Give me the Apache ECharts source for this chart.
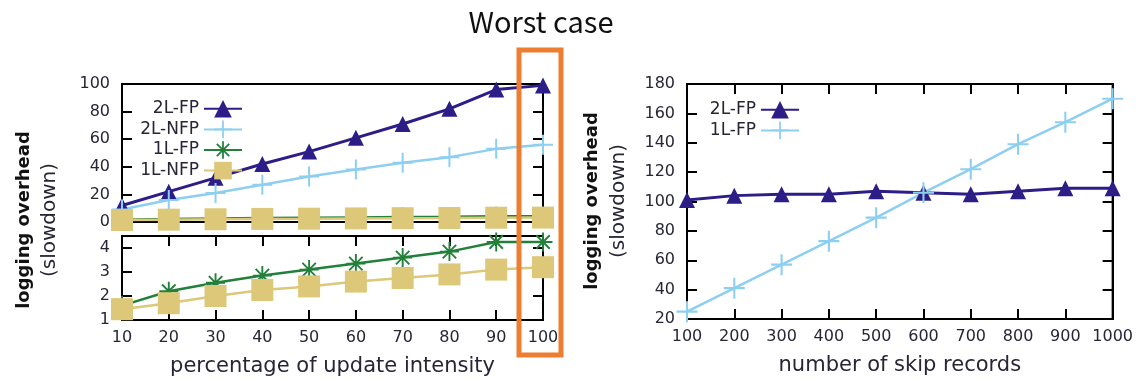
<!DOCTYPE html>
<html>
<head>
<meta charset="UTF-8">
<title>logging overhead</title>
<script src="https://cdn.jsdelivr.net/npm/echarts@6/dist/echarts.min.js"></script>
<style>
  html, body { margin: 0; padding: 0; background: #fff; }
  #main { width: 1136px; height: 384px; }
</style>
</head>
<body>
<div id="main"></div>
<script>
// left chart: percentage of update intensity
var intensity = [10, 20, 30, 40, 50, 60, 70, 80, 90, 100];
var fp2L  = [12, 22, 32, 42, 51, 61, 71, 82, 96, 99];
var nfp2L = [9, 16, 21, 27, 33, 38, 43, 47, 53, 56];
var fp1L  = [1.6, 2.2, 2.55, 2.85, 3.1, 3.35, 3.6, 3.85, 4.25, 4.25];
var nfp1L = [1.45, 1.7, 2.0, 2.25, 2.4, 2.6, 2.75, 2.9, 3.1, 3.2];

// right chart: number of skip records
var skips  = [100, 200, 300, 400, 500, 600, 700, 800, 900, 1000];
var skip2L = [101, 104, 105, 105, 107, 106, 105, 107, 109, 109];
var skip1L = [25, 41, 57, 73, 89, 106, 122, 139, 154, 170];

var PURPLE = '#2c1d87', BLUE = '#8dcff0', GREEN = '#23803a', KHAKI = '#dcc878';
var TXT = '#262636';
var PLUS = 'path://M9,0H11V9H20V11H11V20H9V11H0V9H9Z';
var STAR = 'path://M9,0H11V9H20V11H11V20H9V11H0V9H9Z M3.64,2.22L17.78,16.36L16.36,17.78L2.22,3.64Z M16.36,2.22L17.78,3.64L3.64,17.78L2.22,16.36Z';

function pairs(xs, ys) {
    return xs.map(function (x, i) { return [x, ys[i]]; });
}
function plain(v) { return String(v); }

var tickStyle = { show: true, inside: true, length: 10, lineStyle: { color: '#000', width: 2 } };
var noTick = { show: false };
var frameLine = { show: true, onZero: false, lineStyle: { color: '#000', width: 2 } };

function xAx(grid, pos, min, max, step, labels, ticks, name) {
    return {
        type: 'value', gridIndex: grid, position: pos, min: min, max: max, interval: step,
        axisLine: frameLine, splitLine: { show: false },
        axisTick: ticks ? tickStyle : noTick,
        axisLabel: { show: labels, margin: 10, fontSize: 16, color: TXT, formatter: plain },
        name: name || '', nameLocation: 'middle', nameGap: 36,
        nameTextStyle: { fontSize: 21, color: TXT }
    };
}
function yAx(grid, pos, min, max, step, labels, hideMax) {
    return {
        type: 'value', gridIndex: grid, position: pos, min: min, max: max, interval: step,
        axisLine: frameLine, splitLine: { show: false },
        axisTick: tickStyle,
        axisLabel: { show: labels, margin: 12, fontSize: 16, color: TXT, showMaxLabel: !hideMax, formatter: plain }
    };
}

var chart = echarts.init(document.getElementById('main'));
var option = {
    animation: false,
    textStyle: { fontFamily: 'DejaVu Sans' },
    grid: [
        { left: 122, top: 84, width: 421, height: 138, show: true, borderColor: '#000', borderWidth: 2 },
        { left: 122, top: 236, width: 421, height: 84, show: true, borderColor: '#000', borderWidth: 2 },
        { left: 687, top: 84, width: 426, height: 235, show: true, borderColor: '#000', borderWidth: 2 }
    ],
    xAxis: [
        xAx(0, 'bottom', 10, 100, 10, false, false),
        xAx(1, 'bottom', 10, 100, 10, true, true, 'percentage of update intensity'),
        xAx(1, 'top', 10, 100, 10, false, true),
        xAx(2, 'bottom', 100, 1000, 100, true, true, 'number of skip records'),
        xAx(2, 'top', 100, 1000, 100, false, true)
    ],
    yAxis: [
        yAx(0, 'left', 0, 100, 20, true),
        yAx(0, 'right', 0, 100, 20, false),
        yAx(1, 'left', 1, 4.5, 1, true, true),
        yAx(1, 'right', 1, 4.5, 1, false),
        yAx(2, 'left', 20, 180, 20, true),
        yAx(2, 'right', 20, 180, 20, false)
    ],
    legend: [
        {
            orient: 'vertical', align: 'right', right: 888, top: 95,
            itemWidth: 38, itemHeight: 22, itemGap: 3, selectedMode: false,
            textStyle: { fontSize: 17, color: TXT },
            data: ['2L-FP', '2L-NFP', '1L-FP', '1L-NFP']
        },
        {
            orient: 'vertical', align: 'right', right: 331, top: 96,
            itemWidth: 38, itemHeight: 22, itemGap: 3, selectedMode: false,
            textStyle: { fontSize: 17, color: TXT },
            formatter: function (n) { return n.replace('right ', ''); },
            data: ['right 2L-FP', 'right 1L-FP']
        }
    ],
    series: [
        // top-left panel
        { name: '2L-FP', type: 'line', xAxisIndex: 0, yAxisIndex: 0, data: pairs(intensity, fp2L),
          symbol: 'triangle', symbolSize: 16, color: PURPLE, lineStyle: { width: 3 } },
        { name: '2L-NFP', type: 'line', xAxisIndex: 0, yAxisIndex: 0, data: pairs(intensity, nfp2L),
          symbol: PLUS, symbolSize: 20, color: BLUE, lineStyle: { width: 2.5 } },
        { name: '1L-FP', type: 'line', xAxisIndex: 0, yAxisIndex: 0, data: pairs(intensity, fp1L),
          symbol: STAR, symbolSize: 19, color: GREEN, lineStyle: { width: 2.5 } },
        { name: '1L-NFP', type: 'line', xAxisIndex: 0, yAxisIndex: 0, data: pairs(intensity, nfp1L),
          symbol: 'rect', symbolSize: 22, color: KHAKI, lineStyle: { width: 2.5 } },
        // bottom-left panel
        { name: '1L-FP', type: 'line', xAxisIndex: 1, yAxisIndex: 2, data: pairs(intensity, fp1L),
          symbol: STAR, symbolSize: 19, color: GREEN, lineStyle: { width: 2.5 } },
        { name: '1L-NFP', type: 'line', xAxisIndex: 1, yAxisIndex: 2, data: pairs(intensity, nfp1L),
          symbol: 'rect', symbolSize: 22, color: KHAKI, lineStyle: { width: 2.5 } },
        // right chart
        { name: 'right 2L-FP', type: 'line', xAxisIndex: 3, yAxisIndex: 4, data: pairs(skips, skip2L),
          symbol: 'triangle', symbolSize: 16, color: PURPLE, lineStyle: { width: 3 } },
        { name: 'right 1L-FP', type: 'line', xAxisIndex: 3, yAxisIndex: 4, data: pairs(skips, skip1L),
          symbol: PLUS, symbolSize: 21, color: BLUE, lineStyle: { width: 2.5 } }
    ],
    graphic: [
        { type: 'text', x: 24, y: 220, rotation: Math.PI / 2,
          style: { text: 'logging overhead', fontSize: 18, fontWeight: 'bold', fontFamily: 'DejaVu Sans', fill: '#111', align: 'center', verticalAlign: 'middle' } },
        { type: 'text', x: 50, y: 220, rotation: Math.PI / 2,
          style: { text: '(slowdown)', fontSize: 20, fontFamily: 'DejaVu Sans', fill: TXT, align: 'center', verticalAlign: 'middle' } },
        { type: 'text', x: 592, y: 201, rotation: Math.PI / 2,
          style: { text: 'logging overhead', fontSize: 18, fontWeight: 'bold', fontFamily: 'DejaVu Sans', fill: '#111', align: 'center', verticalAlign: 'middle' } },
        { type: 'text', x: 619, y: 201, rotation: Math.PI / 2,
          style: { text: '(slowdown)', fontSize: 20, fontFamily: 'DejaVu Sans', fill: TXT, align: 'center', verticalAlign: 'middle' } },
        { type: 'text', x: 541, y: 22, z: 100,
          style: { text: 'Worst case', fontSize: 29, fontFamily: 'Noto Sans CJK KR', fill: '#111', align: 'center', verticalAlign: 'middle' } },
        { type: 'rect', z: 100, shape: { x: 519, y: 50, width: 42, height: 305 },
          style: { fill: 'none', stroke: '#ed7d31', lineWidth: 5 } }
    ]
};
chart.setOption(option);
</script>
</body>
</html>
